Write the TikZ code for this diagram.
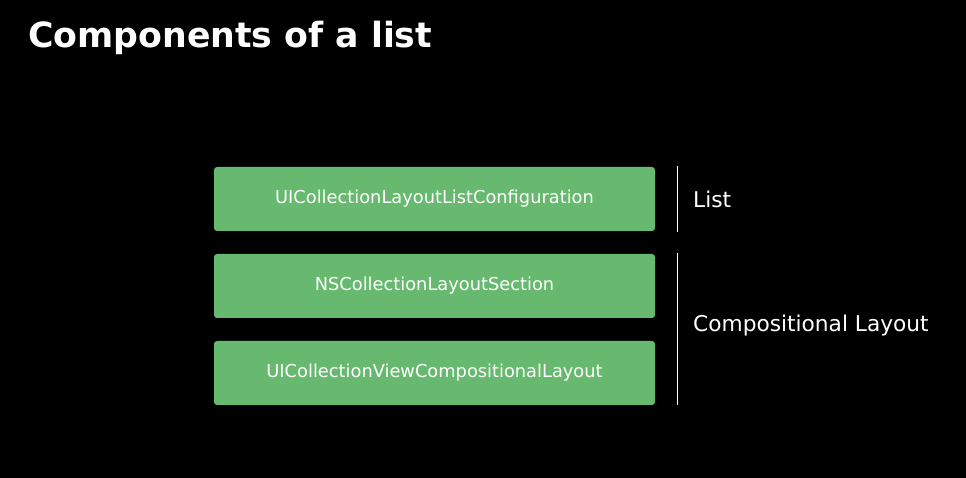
\documentclass[tikz,border=0pt]{standalone}
\usepackage{fontspec}
\setmainfont{DejaVu Sans}
\definecolor{boxgreen}{HTML}{66B96E}
\begin{document}
\begin{tikzpicture}[x=1pt,y=1pt,
  comp/.style={fill=boxgreen,draw=none,rounded corners=3pt,minimum width=441pt,minimum height=64pt,inner sep=0pt,text=white,font=\fontsize{17.8}{20}\selectfont},
  grp/.style={text=white,anchor=west,inner sep=0pt,font=\fontsize{21.7}{25}\selectfont},
  bar/.style={draw=white,line width=1pt}]
\fill[black] (0,0) rectangle (966,478);
\useasboundingbox (0,0) rectangle (966,478);
\node[anchor=base west,inner sep=0pt,text=white,font=\fontsize{34.7}{40}\bfseries] (title) at (28,430) {Components of a list};
\node[comp] (b1) at (434.5,279) {UICollectionLayoutListConfiguration};
\node[comp] (b2) at (434.5,192) {NSCollectionLayoutSection};
\node[comp] (b3) at (434.5,105) {UICollectionViewCompositionalLayout};
\coordinate (l1t) at (677,312);
\coordinate (l1b) at (677,246);
\coordinate (l2t) at (677,225);
\coordinate (l2b) at (677,73);
\draw[bar] (l1t) -- (l1b);
\draw[bar] (l2t) -- (l2b);
\node[grp] (list) at (693,279) {List};
\node[grp] (compl) at (693,152) {Compositional Layout};
\end{tikzpicture}
\end{document}
